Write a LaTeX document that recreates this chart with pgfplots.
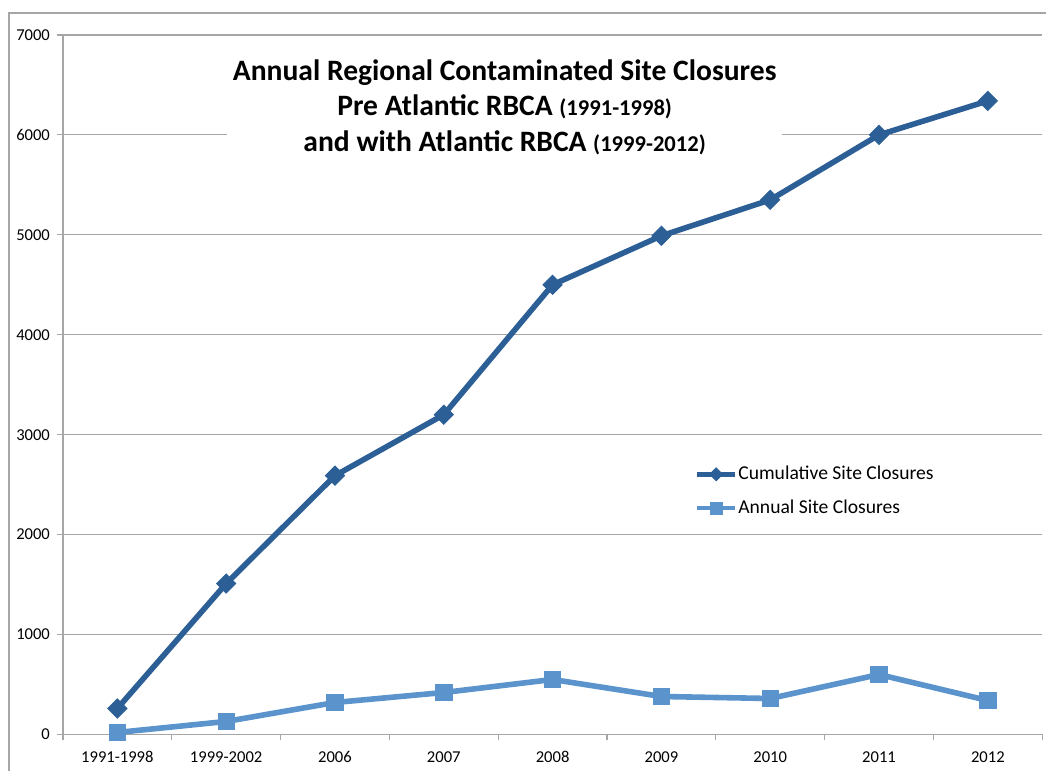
\documentclass[border=0pt]{standalone}
\usepackage{pgfplots}
\pgfplotsset{compat=1.18}
\usepackage{fontspec}
\setmainfont{Carlito}
\definecolor{cumc}{HTML}{2C5F96}
\definecolor{annc}{HTML}{5B93CC}
\definecolor{gridc}{HTML}{A6A6A6}
\begin{document}
\begin{tikzpicture}[x=0.5pt,y=0.5pt]
\path (0,0) rectangle (1047,772);
\draw[gridc,line width=0.75pt] (9,0) -- (9,759) -- (1047,759);
\begin{axis}[
  at={(31.5pt,18.5pt)}, anchor=south west,
  scale only axis, width=490pt, height=350pt,
  xmin=-0.5, xmax=8.5, ymin=0, ymax=7000,
  axis x line=bottom, axis y line=left,
  axis line style={-, gridc, line width=0.6pt},
  xtick={0,1,2,3,4,5,6,7,8},
  xticklabels={1991-1998,1999-2002,2006,2007,2008,2009,2010,2011,2012},
  major x tick style={draw=none},
  minor xtick={-0.5,0.5,1.5,2.5,3.5,4.5,5.5,6.5,7.5,8.5},
  minor tick length=3pt,
  minor x tick style={gridc, line width=0.6pt},
  ytick={0,1000,...,7000},
  major tick length=3pt,
  tick align=outside,
  major y tick style={gridc, line width=0.6pt},
  ymajorgrids, grid style={gridc, line width=0.6pt},
  scaled y ticks=false,
  /pgf/number format/assume math mode=true,
  /pgf/number format/1000 sep={},
  tick label style={font=\fontsize{8.3}{10}\selectfont, black},
  xticklabel style={yshift=-2pt},
  legend style={at={(0.645,0.39)}, anchor=north west, draw=none, fill=none,
    font=\fontsize{9.8}{11}\selectfont, row sep=4.5pt, inner sep=0pt,
    nodes={inner xsep=0.5pt}},
  legend cell align=left,
  clip=false,
]
\addplot[cumc, line width=2.8pt, mark=square*, mark size=3.4pt,
  mark options={rotate=45, solid, fill=cumc, draw=cumc, line width=0.4pt},
  legend image code/.code={\draw[mark repeat=2, mark phase=2, line width=2.2pt, mark size=2.3pt] plot coordinates {(0pt,0pt)(9.5pt,0pt)(19pt,0pt)};}]
coordinates {(0,260)(1,1510)(2,2590)(3,3200)(4,4500)(5,4990)(6,5350)(7,6000)(8,6340)};
\addlegendentry{Cumulative Site Closures}
\addplot[annc, line width=2.8pt, mark=square*, mark size=4.1pt,
  mark options={solid, fill=annc, draw=annc, line width=0.4pt},
  legend image code/.code={\draw[mark repeat=2, mark phase=2, line width=2.2pt, mark size=3pt] plot coordinates {(0pt,0pt)(9.5pt,0pt)(19pt,0pt)};}]
coordinates {(0,20)(1,130)(2,320)(3,420)(4,550)(5,380)(6,360)(7,600)(8,340)};
\addlegendentry{Annual Site Closures}
\end{axis}
\node[fill=white, minimum width=278pt, minimum height=52pt, inner sep=0pt, align=center,
  font=\bfseries\fontsize{14.8}{17.8}\selectfont] at (505,665)
  {Annual Regional Contaminated Site Closures\\
   Pre Atlantic RBCA {\fontsize{11.3}{12}\selectfont (1991-1998)}\\
   and with Atlantic RBCA {\fontsize{11.3}{12}\selectfont (1999-2012)}};
\end{tikzpicture}
\end{document}
